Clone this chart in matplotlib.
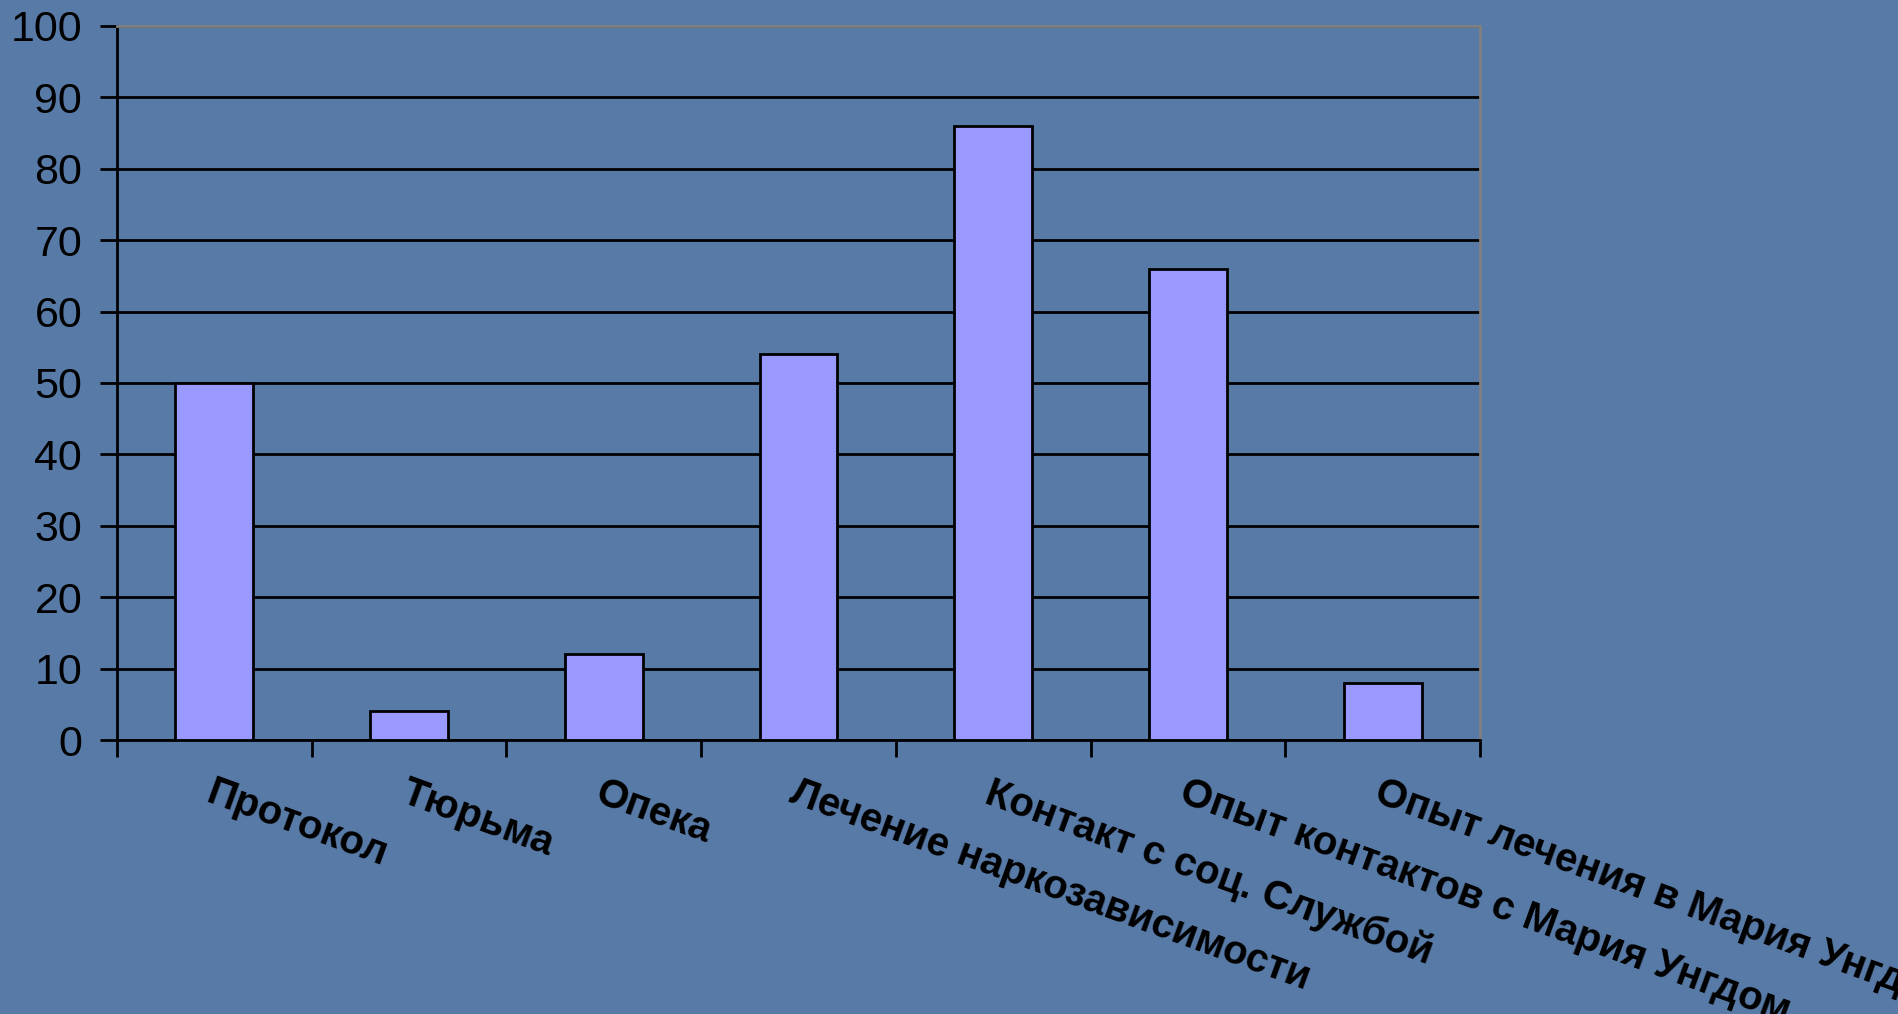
import matplotlib.pyplot as plt
import numpy as np

categories = ["Протокол", "Тюрьма", "Опека", "Лечение наркозависимости",
              "Контакт с соц. Службой", "Опыт контактов с Мария Унгдом",
              "Опыт лечения в Мария Унгдом"]
values = [50, 4, 12, 54, 86, 66, 8]
yticks = list(range(0, 101, 10))

bg = "#587aa6"
plt.rcParams['font.family'] = ['Liberation Sans', 'DejaVu Sans']

fig = plt.figure(figsize=(18.98, 10.14), dpi=100, facecolor=bg)
ax = fig.add_axes([0.0616, 0.2702, 0.7182, 0.7042])
ax.set_facecolor(bg)

x = np.arange(len(categories))
ax.bar(x + 0.5, values, width=0.4, color="#9999ff", edgecolor="black",
       linewidth=2, zorder=3)

ax.set_xlim(0, len(categories))
ax.set_ylim(0, 100)
ax.set_yticks(yticks)
ax.set_yticklabels([str(v) for v in yticks], fontsize=31)
ax.yaxis.grid(True, color="black", linewidth=2, zorder=1)
ax.set_axisbelow(True)

# category labels at centres, tick marks at the boundaries
ax.set_xticks(x + 0.5)
ax.set_xticklabels(categories, fontsize=29, fontweight="bold",
                   rotation=-20, rotation_mode="anchor", ha="left", va="top")
ax.set_xticks(np.arange(len(categories) + 1), minor=True)
ax.tick_params(axis="x", which="major", length=0, pad=24)
ax.tick_params(axis="x", which="minor", length=12, width=2, color="black")
ax.tick_params(axis="y", length=12, width=2, color="black", pad=13)

for s in ("left", "bottom"):
    ax.spines[s].set_color("black")
    ax.spines[s].set_linewidth(2)
for s in ("top", "right"):
    ax.spines[s].set_color("#808080")
    ax.spines[s].set_linewidth(2)

fig.savefig("out.png", dpi=100, facecolor=bg)
